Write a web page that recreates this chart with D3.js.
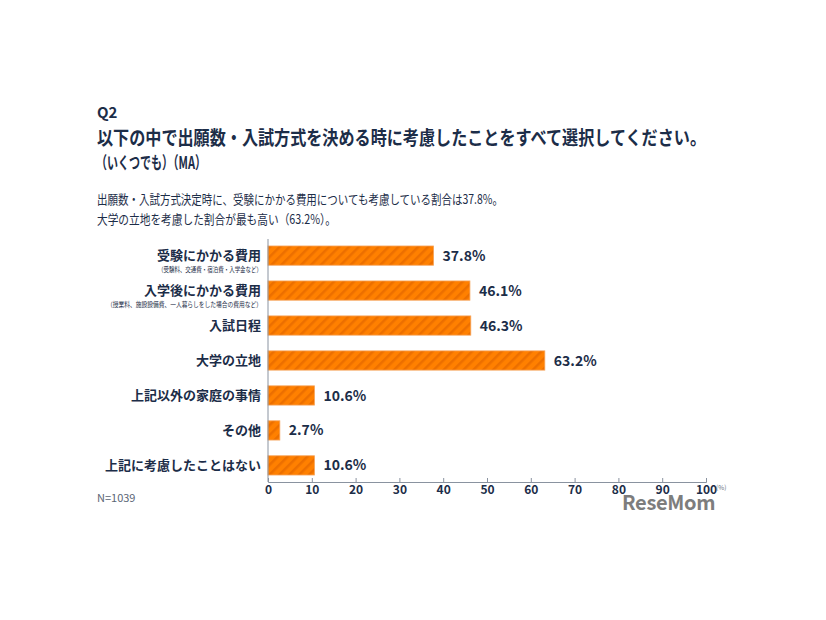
<!DOCTYPE html>
<html><head><meta charset="utf-8">
<script src="https://cdn.jsdelivr.net/npm/d3@7/dist/d3.min.js"></script>
<style>
body{margin:0;background:#fff;}
text{font-family:"Noto Sans CJK JP","Noto Sans",sans-serif;}
</style></head>
<body><svg id="c" width="826" height="620"></svg>
<script>
const categories = ["受験にかかる費用","入学後にかかる費用","入試日程","大学の立地","上記以外の家庭の事情","その他","上記に考慮したことはない"];
const subLabels = ["（受験料、交通費・宿泊費・入学金など）","（授業料、施設設備費、一人暮らしをした場合の費用など）","","","","",""];
const values = [37.8,46.1,46.3,63.2,10.6,2.7,10.6];
const ticks = [0,10,20,30,40,50,60,70,80,90,100];

const svg = d3.select("#c");
const navy = "#1c2d48";

const defs = svg.append("defs");
const pat = defs.append("pattern").attr("id","hatch").attr("patternUnits","userSpaceOnUse")
  .attr("width",7).attr("height",7).attr("patternTransform","rotate(45)");
pat.append("rect").attr("width",7).attr("height",7).attr("fill","#ff8000");
pat.append("rect").attr("width",2.5).attr("height",7).attr("fill","#ec6f00");

function fitText(sel, len){ return sel.attr("textLength",len).attr("lengthAdjust","spacingAndGlyphs"); }

// titles
svg.append("text").attr("x",97).attr("y",118).attr("font-size",15).attr("font-weight",700).attr("fill",navy).text("Q2");
fitText(svg.append("text").attr("x",97).attr("y",145).attr("font-size",19).attr("font-weight",700).attr("fill",navy)
  .text("以下の中で出願数・入試方式を決める時に考慮したことをすべて選択してください。"), 609);
fitText(svg.append("text").attr("x",96).attr("y",169).attr("font-size",17).attr("font-weight",700).attr("fill",navy)
  .text("（いくつでも）（MA）"), 110);
fitText(svg.append("text").attr("x",97).attr("y",204).attr("font-size",13).attr("fill",navy)
  .text("出願数・入試方式決定時に、受験にかかる費用についても考慮している割合は37.8%。"), 406);
fitText(svg.append("text").attr("x",97).attr("y",224).attr("font-size",13).attr("fill",navy)
  .text("大学の立地を考慮した割合が最も高い（63.2%）。"), 239);

const x = d3.scaleLinear().domain([0,100]).range([268,706]);
const y = d3.scaleBand().domain(categories).range([239,482]).paddingInner(0.45).paddingOuter(0.2);

// bars
svg.append("g").selectAll("rect").data(values).join("rect")
  .attr("x",x(0)).attr("y",(d,i)=>y(categories[i]))
  .attr("width",d=>x(d)-x(0)).attr("height",y.bandwidth())
  .attr("fill","url(#hatch)").attr("stroke","#f6a35a").attr("stroke-width",0.8);

// value labels
svg.append("g").selectAll("text").data(values).join("text")
  .attr("x",d=>x(d)+9).attr("y",(d,i)=>y(categories[i])+y.bandwidth()/2)
  .attr("dy","0.36em").attr("font-size",14).attr("font-weight",700).attr("fill",navy)
  .attr("font-family","Lato, 'Noto Sans', sans-serif")
  .text(d=>d.toFixed(1)+"%");

// category labels
const subLens = [104, 155];
categories.forEach((c,i)=>{
  const cy = y(c)+y.bandwidth()/2;
  const hasSub = subLabels[i] !== "";
  svg.append("text").attr("x",261).attr("y", cy).attr("dy", "0.36em")
    .attr("text-anchor","end").attr("font-size",13).attr("font-weight",700).attr("fill",navy).text(c);
  if (hasSub) {
    fitText(svg.append("text").attr("x",262).attr("y",cy+16).attr("text-anchor","end")
      .attr("font-size",6.8).attr("fill",navy).text(subLabels[i]), subLens[i]);
  }
});

// axes
const axisY = 482;
svg.append("line").attr("x1",x(0)).attr("x2",x(0)).attr("y1",239).attr("y2",axisY).attr("stroke","#8a93a0").attr("stroke-width",1);
const xAxis = d3.axisBottom(x).tickValues(ticks).tickSize(-4).tickPadding(3).tickFormat(d3.format("d"));
const gx = svg.append("g").attr("transform",`translate(0,${axisY})`).call(xAxis);
gx.select(".domain").attr("stroke","#8a93a0");
gx.selectAll(".tick line").attr("stroke","#8a93a0");
gx.selectAll(".tick text").attr("font-size",12).attr("font-weight",700).attr("fill",navy)
  .attr("font-family","Lato, 'Noto Sans', sans-serif").attr("y",3);
svg.append("text").attr("x",716).attr("y",490).attr("font-size",6.5).attr("fill","#6a7380").text("(%)");

svg.append("text").attr("x",97).attr("y",502).attr("font-size",11).attr("fill","#5a6575")
  .attr("font-family","Lato, 'Noto Sans', sans-serif").text("N=1039");

// watermark
svg.append("text").attr("x",622).attr("y",510).attr("font-size",20).attr("font-weight",700).attr("fill","#7d7d7d")
  .attr("font-family","'Liberation Sans Narrow','DejaVu Sans Condensed',sans-serif").attr("letter-spacing",-0.3).text("ReseMom");
</script></body></html>
